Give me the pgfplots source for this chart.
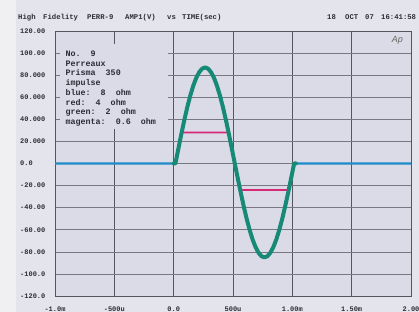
\documentclass[border=0pt]{standalone}
\usepackage{pgfplots}
\pgfplotsset{compat=1.18}
\usepackage{pgfplotstable}
\usepackage{fontspec}
\setmainfont{Liberation Mono}
\newfontfamily\apfont{Liberation Sans}
\definecolor{pagebg}{RGB}{228,228,236}
\definecolor{stripbg}{RGB}{240,240,243}
\definecolor{plotbg}{RGB}{218,219,231}
\definecolor{gridv}{RGB}{85,85,95}
\definecolor{gridh}{RGB}{120,120,130}
\definecolor{txt}{RGB}{45,45,55}
\definecolor{trgreen}{RGB}{22,138,118}
\definecolor{trblue}{RGB}{30,140,200}
\definecolor{trred}{RGB}{200,40,50}
\definecolor{trmag}{RGB}{215,40,120}

\pgfplotstableread{
t v
-1000 0
0 0
15 0
40 13.6
65 26.9
90 39.5
115 51.1
140 61.5
165 70.4
190 77.5
215 82.7
240 85.9
265 87
290 85.9
315 82.7
340 77.5
365 70.4
390 61.5
415 51.1
440 39.5
465 26.9
490 13.6
515 0
540 -13.3
565 -26.3
590 -38.6
615 -50.0
640 -60.1
665 -68.8
690 -75.7
715 -80.8
740 -84.0
765 -85
790 -84.0
815 -80.8
840 -75.7
865 -68.8
890 -60.1
915 -50.0
940 -38.6
965 -26.3
990 -13.3
1015 0
2000 0
}\bluedata

\pgfplotstableread{
t v
0 0
15 0
40 13.6
65 26.9
90 39.5
115 51.1
140 61.5
165 70.4
190 77.5
215 82.7
240 85.9
265 87
290 85.9
315 82.7
340 77.5
365 70.4
390 61.5
415 51.1
440 39.5
465 26.9
490 13.6
515 0
540 -13.3
565 -26.3
590 -38.6
615 -50.0
640 -60.1
665 -68.8
690 -75.7
715 -80.8
740 -84.0
765 -85
790 -84.0
815 -80.8
840 -75.7
865 -68.8
890 -60.1
915 -50.0
940 -38.6
965 -26.3
990 -13.3
1015 0
1030 0
}\greendata

\pgfplotstableread{
t v
0 0
15 0
40 13.6
67 28
463 28
490 13.6
515 0
540 -13.3
560 -24
970 -24
990 -13.3
1015 0
}\magdata

\begin{document}
\begin{tikzpicture}
\fill[pagebg] (0,0) rectangle (419bp,312bp);
\fill[stripbg] (0,0) rectangle (16bp,312bp);
\begin{axis}[
  at={(55bp,16bp)}, anchor=south west,
  scale only axis, width=356bp, height=265bp,
  xmin=-1000, xmax=2000, ymin=-120, ymax=120,
  axis background/.style={fill=plotbg},
  axis line style={draw=gridv, line width=0.7bp},
  xtick={-1000,-500,0,500,1000,1500,2000},
  xticklabels={-1.0m,-500u,0.0,500u,1.00m,1.50m,2.00},
  ytick={-120,-100,-80,-60,-40,-20,0,20,40,60,80,100,120},
  yticklabels={-120.0,-100.0,-80.00,-60.00,-40.00,-20.00,0.0,20.000,40.000,60.000,80.000,100.00,120.00},
  major tick length=0pt,
  xmajorgrids, ymajorgrids,
  x grid style={draw=gridv, line width=0.7bp},
  y grid style={draw=gridh, line width=0.6bp},
  tick label style={font=\fontsize{7}{8}\selectfont\bfseries, text=txt},
  xticklabel style={anchor=center, yshift=-13bp},
  yticklabel style={anchor=west, inner sep=0pt, xshift=-35bp},
  clip=true,
]
\addplot[trred, line width=1.8bp] table[x=t,y=v] {\greendata};
\addplot[trmag, line width=1.8bp] table[x=t,y=v] {\magdata};
\addplot[trblue, line width=2.2bp] table[x=t,y=v] {\bluedata};
\addplot[trgreen, line width=4bp, line join=round, line cap=round] table[x=t,y=v] {\greendata};
\fill[plotbg] (axis cs:-958,108) rectangle (axis cs:-48,31);
\node[anchor=north west, inner xsep=5bp, inner ysep=3bp, align=left,
      font=\fontsize{8.4}{9.8}\selectfont\bfseries, text=txt]
  at (axis cs:-955,105) {No.\ \ 9\\Perreaux\\Prisma\ \ 350\\impulse\\blue:\ \ 8\ \ ohm\\red:\ \ 4\ \ ohm\\green:\ \ 2\ \ ohm\\magenta:\ \ 0.6\ \ ohm};
\node[anchor=north east, text=gray!80!black, font=\apfont\fontsize{9}{10}\selectfont\itshape] at (axis cs:1960,118) {Ap};
\end{axis}
\begin{scope}[every node/.style={anchor=base west, inner sep=0pt, text=txt, font=\fontsize{7.3}{8}\selectfont\bfseries}]
\node at (18bp,292bp) {High};
\node at (43bp,292bp) {Fidelity};
\node at (87bp,292bp) {PERR-9};
\node at (125bp,292bp) {AMP1(V)};
\node at (167bp,292bp) {vs};
\node at (182bp,292bp) {TIME(sec)};
\node at (327bp,292bp) {18};
\node at (345bp,292bp) {OCT};
\node at (365bp,292bp) {07};
\node at (381bp,292bp) {16:41:58};
\end{scope}
\pgfresetboundingbox
\path[use as bounding box] (0,0) rectangle (419bp,312bp);
\end{tikzpicture}
\end{document}
